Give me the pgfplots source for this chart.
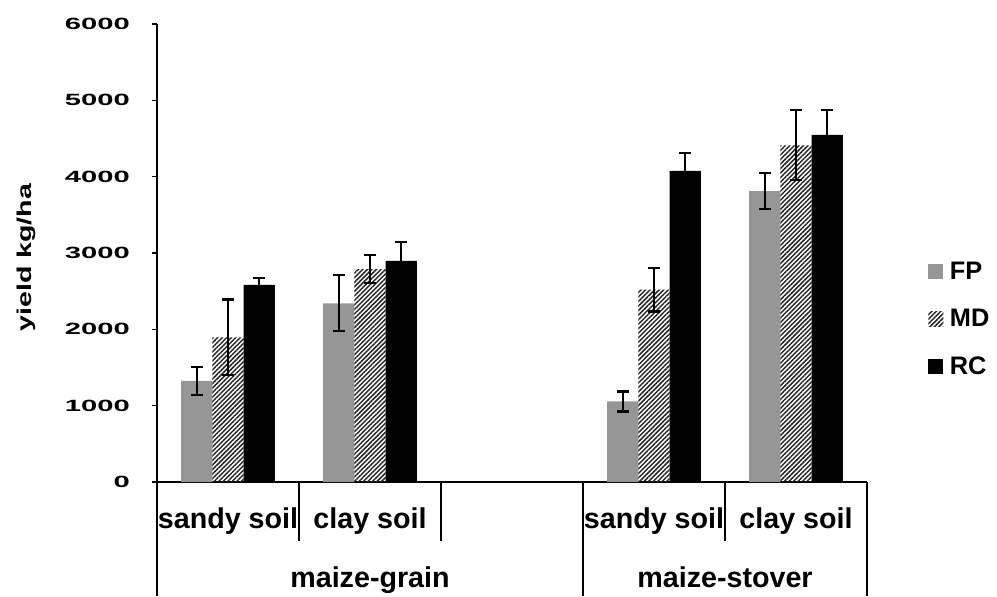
\documentclass[border=0pt]{standalone}
\usepackage{pgfplots}
\pgfplotsset{compat=1.18}
\usepackage{fontspec}
\setmainfont{Liberation Sans}
\newfontfamily\wideticks[FakeStretch=1.79]{Liberation Sans Bold}
\newfontfamily\widelabel[FakeStretch=1.43]{Liberation Sans}
\usetikzlibrary{patterns.meta}
\definecolor{fpgray}{RGB}{150,150,150}

% yield means and error half-widths, slot 2 is the empty gap
\pgfplotstableread{
x FP FPe MD MDe RC RCe
0 1324 183 1895 496 2582 96
1 2340 367 2788 181 2896 250
3 1055 131 2520 287 4076 232
4 3810 233 4410 458 4548 331
}\yields

\begin{document}
\begin{tikzpicture}[
    ytl/.style={anchor=east, inner sep=0pt, font=\wideticks\fontsize{12.2pt}{14pt}\selectfont}]
\begin{axis}[
    name=ax,
    scale only axis,
    width=532.5pt, height=343.5pt,
    ybar=0pt, bar width=0.22,
    xmin=-0.5, xmax=4.5,
    ymin=0, ymax=6000,
    ytick={0,1000,...,6000},
    yticklabels={},
    xtick={0,1,3,4},
    xticklabels={sandy soil,clay soil,sandy soil,clay soil},
    axis x line*=bottom, axis y line*=left,
    axis line style={line width=1pt},
    x tick style={draw=none},
    y tick style={line width=1pt, black},
    tick align=outside,
    major tick length=3.75pt,
    xticklabel style={anchor=base, inner sep=0pt, yshift=-30.75pt,
        font=\fontsize{21.5pt}{24pt}\selectfont\bfseries},
    ylabel={yield kg/ha},
    ylabel style={at={(axis description cs:-0.1845,0.49)}, anchor=center,
        font=\widelabel\fontsize{15pt}{17pt}\selectfont\bfseries},
    clip=false,
    every axis plot/.append style={
        legend image code/.code={\path[##1, draw=none] (0pt,-5.6pt) rectangle (11.2pt,5.6pt);}},
    legend style={at={(axis description cs:1.086,0.356)}, anchor=west,
        draw=none, fill=none, inner sep=0pt, row sep=17pt,
        nodes={inner xsep=5pt},
        font=\fontsize{19pt}{22pt}\selectfont\bfseries},
    legend cell align=left,
    error bars/error bar style={draw=black, line width=1.6pt},
    error bars/error mark options={draw=black, rotate=90, mark size=4.5pt, line width=1.6pt},
]

\addplot[fill=fpgray, draw=none,
    error bars/.cd, y dir=both, y explicit]
    table[x=x, y=FP, y error=FPe] {\yields};

\addplot[draw=none, pattern={Lines[angle=45,distance=2.4pt,line width=1.1pt]}, pattern color=black!85,
    error bars/.cd, y dir=both, y explicit]
    table[x=x, y=MD, y error=MDe] {\yields};

\addplot[fill=black, draw=none,
    error bars/.cd, y dir=both, y explicit]
    table[x=x, y=RC, y error=RCe] {\yields};

\legend{FP,MD,RC}

% y tick labels, stretched wide as in the reference
\node[ytl] at ([xshift=-20.25pt]axis cs:-0.5,0) {0};
\node[ytl] at ([xshift=-20.25pt]axis cs:-0.5,1000) {1000};
\node[ytl] at ([xshift=-20.25pt]axis cs:-0.5,2000) {2000};
\node[ytl] at ([xshift=-20.25pt]axis cs:-0.5,3000) {3000};
\node[ytl] at ([xshift=-20.25pt]axis cs:-0.5,4000) {4000};
\node[ytl] at ([xshift=-20.25pt]axis cs:-0.5,5000) {5000};
\node[ytl] at ([xshift=-20.25pt]axis cs:-0.5,6000) {6000};

% category dividers below the axis
\draw[line width=1pt] (axis cs:0.5,0) -- ([yshift=-44.25pt]axis cs:0.5,0);
\draw[line width=1pt] (axis cs:1.5,0) -- ([yshift=-44.25pt]axis cs:1.5,0);
\draw[line width=1pt] (axis cs:3.5,0) -- ([yshift=-44.25pt]axis cs:3.5,0);
\draw[line width=1pt] (axis cs:-0.5,0) -- ([yshift=-85.5pt]axis cs:-0.5,0);
\draw[line width=1pt] (axis cs:2.5,0) -- ([yshift=-85.5pt]axis cs:2.5,0);
\draw[line width=1pt] (axis cs:4.5,0) -- ([yshift=-85.5pt]axis cs:4.5,0);

\node[anchor=base, yshift=-78.75pt, font=\fontsize{21.5pt}{24pt}\selectfont\bfseries]
    at (axis cs:1,0) {maize-grain};
\node[anchor=base, yshift=-78.75pt, font=\fontsize{21.5pt}{24pt}\selectfont\bfseries]
    at (axis cs:3.5,0) {maize-stover};
\end{axis}
\pgfresetboundingbox
\path[use as bounding box] ([xshift=-117.75pt,yshift=-85.5pt]ax.south west)
    rectangle ([xshift=97.5pt,yshift=18pt]ax.north east);
\end{tikzpicture}
\end{document}
